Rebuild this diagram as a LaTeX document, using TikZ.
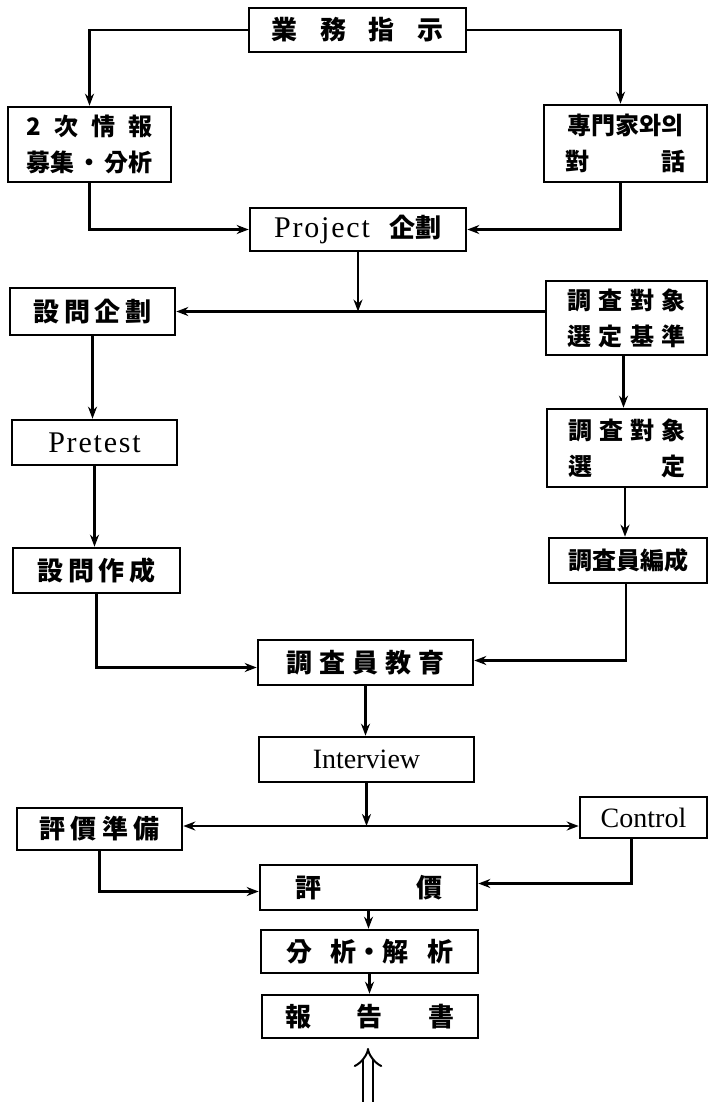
\documentclass[tikz,border=0pt]{standalone}
\usepackage{fontspec}
\setmainfont{Liberation Serif}
\newfontfamily\cjk{Noto Sans CJK KR}
\newfontfamily\latls[LetterSpace=6]{Liberation Serif}
\usetikzlibrary{arrows.meta}
\newcommand\zh{\cjk\bfseries\fontsize{24pt}{36pt}\selectfont}
\newcommand\zhb{\fontsize{26pt}{36pt}\selectfont}
\newcommand\lat{\rmfamily\mdseries\fontsize{28pt}{30pt}\selectfont}
\newcommand\latw{\latls\mdseries\fontsize{30pt}{32pt}\selectfont}
\newcommand\spr[2]{\makebox[#1]{#2}}
\tikzset{
  box/.style={draw, line width=2.6pt, inner sep=0pt, font=\zh, align=center},
  arr/.style={line width=2.1pt, -{Stealth[length=12pt,width=9pt]}},
  arrtwo/.style={line width=2.1pt, {Stealth[length=12pt,width=9pt]}-{Stealth[length=12pt,width=9pt]}},
}
\begin{document}
\begin{tikzpicture}[x=1pt,y=-1pt]
\fill[white] (0,0) rectangle (709,1102);
\useasboundingbox (0,0) rectangle (709,1102);

\node[box, minimum width=217pt, minimum height=44pt] (task) at (357.5,30) {\zhb\spr{172pt}{業\hfill 務\hfill 指\hfill 示}};
\node[box, minimum width=163pt, minimum height=75pt] (sec) at (89.5,144.5) {\spr{126pt}{2\hfill 次\hfill 情\hfill 報}\\\spr{126pt}{募集\hfill ・\hfill 分析}};
\node[box, minimum width=163pt, minimum height=77pt] (exp) at (625.5,143.5) {\spr{120pt}{專門家와의}\\\spr{120pt}{對\hfill 話}};
\node[box, minimum width=216pt, minimum height=43pt] (proj) at (358,229.5) {{\latw Project}\hspace{20pt}{\zhb 企劃}};
\node[box, minimum width=165pt, minimum height=47pt] (q) at (92.5,311.5) {\zhb\spr{118pt}{設\hfill 問\hfill 企\hfill 劃}};
\node[box, minimum width=161pt, minimum height=74pt] (crit) at (626.5,318) {\spr{118pt}{調\hfill 査\hfill 對\hfill 象}\\\spr{118pt}{選\hfill 定\hfill 基\hfill 準}};
\node[box, minimum width=165pt, minimum height=45pt] (pre) at (94.5,442.5) {\latw Pretest};
\node[box, minimum width=160pt, minimum height=78pt] (sel) at (627,448) {\spr{118pt}{調\hfill 査\hfill 對\hfill 象}\\\spr{118pt}{選\hfill 定}};
\node[box, minimum width=167pt, minimum height=45pt] (qm) at (96.5,570.5) {\zhb\spr{118pt}{設\hfill 問\hfill 作\hfill 成}};
\node[box, minimum width=158pt, minimum height=45pt] (org) at (628,560.5) {調査員編成};
\node[box, minimum width=215pt, minimum height=45pt] (edu) at (365.5,662.5) {\zhb\spr{158pt}{調\hfill 査\hfill 員\hfill 教\hfill 育}};
\node[box, minimum width=215pt, minimum height=45pt] (int) at (366.5,759.5) {\lat Interview};
\node[box, minimum width=165pt, minimum height=42pt] (prep) at (99.5,829) {\zhb\spr{120pt}{評\hfill 價\hfill 準\hfill 備}};
\node[box, minimum width=127pt, minimum height=41pt] (ctrl) at (643.5,817.5) {\lat Control};
\node[box, minimum width=217pt, minimum height=45pt] (eval) at (368.5,887.5) {\zhb\spr{147pt}{評\hfill 價}};
\node[box, minimum width=217pt, minimum height=43pt] (ana) at (369.5,951.5) {\zhb\spr{167pt}{分\hfill 析・解\hfill 析}};
\node[box, minimum width=216pt, minimum height=43pt] (rep) at (370,1016.5) {\zhb\spr{170pt}{報\hfill 告\hfill 書}};

\draw[arr] (task.west) -| (sec.north);
\draw[arr] (task.east) -| ([xshift=-5pt]exp.north);
\draw[arr] (sec.south) |- (proj.west);
\draw[arr] ([xshift=-5pt]exp.south) |- (proj.east);
\draw[arr] (proj.south) -- (proj.south |- q.east);
\draw[arr] (crit.west |- q.east) -- (q.east);
\draw[arr] (q.south) -- (q.south |- pre.north);
\draw[arr] (pre.south) -- (pre.south |- qm.north);
\draw[arr] ([xshift=-3pt]crit.south) -- ([xshift=-3pt]crit.south |- sel.north);
\draw[arr] ([xshift=-2pt]sel.south) -- ([xshift=-2pt]sel.south |- org.north);
\draw[arr] (qm.south) |- ([yshift=-5pt]edu.west);
\draw[arr] ([xshift=-2pt]org.south) |- ([yshift=2pt]edu.east);
\draw[arr] (edu.south) -- (edu.south |- int.north);
\coordinate (mid) at ([yshift=3pt]prep.east);
\draw[arr] (int.south) -- (int.south |- mid);
\draw[arrtwo] (mid) -- (mid -| ctrl.west);
\draw[arr] (prep.south) |- ([yshift=-4pt]eval.west);
\draw[arr] ([xshift=-12pt]ctrl.south) |- ([yshift=4pt]eval.east);
\draw[arr] (eval.south) -- (eval.south |- ana.north);
\draw[arr] (ana.south) -- (ana.south |- rep.north);
\coordinate (dbot) at (368,1102);
\coordinate (dtop) at (368,1048);
\draw[double, double distance=8pt, line width=2pt, -{Implies[length=18pt]}] (dbot) -- (dtop);
\end{tikzpicture}
\end{document}
